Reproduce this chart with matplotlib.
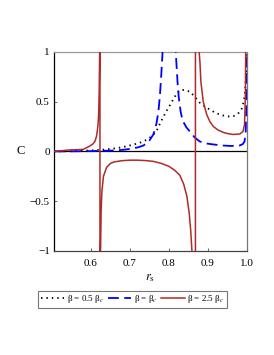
import numpy as np
import matplotlib
matplotlib.use("Agg")
import matplotlib.pyplot as plt

plt.rcParams['font.family'] = ['Liberation Serif', 'DejaVu Serif']
plt.rcParams['mathtext.fontset'] = 'stix'

# beta = 0.5 beta_c (dotted black)
x_half = [0.505, 0.55, 0.60, 0.63, 0.65, 0.67, 0.69, 0.70, 0.72, 0.735, 0.75, 0.76, 0.77,
          0.777, 0.79, 0.803, 0.815, 0.825, 0.832, 0.84, 0.854, 0.866, 0.879, 0.892, 0.905,
          0.918, 0.931, 0.944, 0.956, 0.966, 0.973, 0.98, 0.986, 0.992, 0.995, 0.997, 0.999, 1.0]
c_half = [0.0, 0.003, 0.01, 0.017, 0.025, 0.035, 0.05, 0.06, 0.08, 0.10, 0.135, 0.167, 0.22,
          0.28, 0.38, 0.467, 0.55, 0.60, 0.62, 0.615, 0.60, 0.55, 0.49, 0.45, 0.42,
          0.39, 0.37, 0.355, 0.35, 0.355, 0.37, 0.39, 0.42, 0.50, 0.58, 0.70, 0.9, 1.05]

# beta = beta_c (dashed blue), two branches around the pole
x_crit = [0.505, 0.55, 0.60, 0.65, 0.68, 0.70, 0.72, 0.735, 0.75, 0.76, 0.768, 0.773, 0.777,
          0.78, 0.783, 0.785, np.nan,
          0.816, 0.819, 0.822, 0.825, 0.83, 0.835, 0.845, 0.854, 0.866, 0.879, 0.895, 0.914,
          0.935, 0.956, 0.97, 0.982, 0.99, 0.994, 0.997, 0.999, 1.0]
c_crit = [0.0, 0.001, 0.003, 0.008, 0.015, 0.025, 0.04, 0.06, 0.11, 0.17, 0.28, 0.40, 0.57,
          0.75, 0.95, 1.1, np.nan,
          1.1, 0.9, 0.7, 0.55, 0.40, 0.31, 0.24, 0.20, 0.14, 0.10, 0.08, 0.07,
          0.06, 0.055, 0.055, 0.06, 0.075, 0.10, 0.20, 0.5, 1.1]

# beta = 2.5 beta_c (solid red), drawn as one connected curve
x_big = [0.505, 0.546, 0.58, 0.597, 0.605, 0.610, 0.614, 0.616, 0.618, 0.6197, 0.621, 0.6218,
         0.6225, 0.623,
         0.623, 0.6245, 0.626, 0.628, 0.632, 0.64, 0.65, 0.66, 0.68, 0.70, 0.72, 0.74, 0.76,
         0.78, 0.80, 0.815, 0.828, 0.838, 0.846, 0.852, 0.856, 0.859, 0.862, 0.868,
         0.868, 0.8765, 0.8795, 0.882, 0.888, 0.897, 0.905, 0.914, 0.926, 0.940, 0.952, 0.965,
         0.982, 0.99, 0.994, 0.996, 0.997, 0.998]
c_big = [0.0, 0.015, 0.02, 0.054, 0.075, 0.10, 0.15, 0.2, 0.27, 0.37, 0.60, 0.85,
         1.1, 1.3,
         -1.3, -1.0, -0.6, -0.4, -0.25, -0.16, -0.12, -0.105, -0.093, -0.088, -0.088, -0.092, -0.10,
         -0.12, -0.15, -0.19, -0.24, -0.33, -0.45, -0.62, -0.8, -1.0, -1.25, -1.3,
         1.3, 1.05, 0.90, 0.70, 0.50, 0.37, 0.30, 0.25, 0.215, 0.19, 0.178, 0.17,
         0.175, 0.20, 0.27, 0.53, 1.0, 1.3]

x_ticks = [0.6, 0.7, 0.8, 0.9, 1.0]
x_tick_labels = ['0.6', '0.7', '0.8', '0.9', '1.0']
y_ticks = [-1, -0.5, 0, 0.5, 1]
y_tick_labels = ['\u22121', '\u22120.5', '0', '0.5', '1']
labels = ['\u03b2 = 0.5 \u03b2$_{c}$', '\u03b2 = \u03b2$_{c}$', '\u03b2 = 2.5 \u03b2$_{c}$']

fig = plt.figure(figsize=(2.74, 3.55), dpi=100)
ax = fig.add_axes([0.197, 0.293, 0.704, 0.561])

red = '#b02a2a'
ax.axhline(0, color='black', lw=0.9, zorder=1)
l1, = ax.plot(x_half, c_half, color='black', lw=1.3, linestyle=(0, (0.8, 2.2)), zorder=3)
l2, = ax.plot(x_crit, c_crit, color='#0000ff', lw=1.3, linestyle=(0, (6, 3)), zorder=3)
l3, = ax.plot(x_big, c_big, color=red, lw=1.1, zorder=4)

ax.set_xlim(0.505, 1.0)
ax.set_ylim(-1, 1)
ax.set_xticks(x_ticks)
ax.set_xticklabels(x_tick_labels)
ax.set_yticks(y_ticks)
ax.set_yticklabels(y_tick_labels)
ax.tick_params(direction='in', length=2.5, width=0.6, labelsize=8, color='#555555')
ax.tick_params(axis='x', pad=6)
ax.tick_params(axis='y', pad=3)

ax.spines['left'].set_color('black')
ax.spines['bottom'].set_color('#444444')
ax.spines['top'].set_color('#999999')
ax.spines['right'].set_color('#777777')
for s in ax.spines.values():
    s.set_linewidth(0.9)

ax.set_ylabel('C', rotation=0, fontsize=9, va='center')
ax.yaxis.set_label_coords(-0.17, 0.5)
ax.set_xlabel('$r_{\\mathrm{s}}$', fontsize=9, labelpad=3)

leg = fig.legend([l1, l2, l3], labels, loc='center', bbox_to_anchor=(0.484, 0.157), ncol=3,
                 fontsize=6.5, frameon=True, fancybox=False, edgecolor='#555555',
                 handlelength=2.6, handletextpad=0.3, columnspacing=0.4, borderpad=0.3,
                 borderaxespad=0)
leg.get_frame().set_linewidth(0.8)

fig.savefig('out.png', dpi=100)
